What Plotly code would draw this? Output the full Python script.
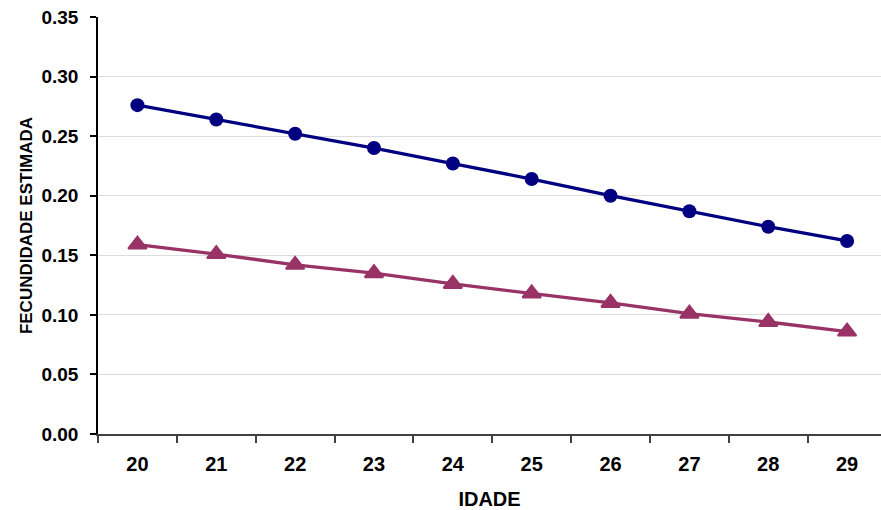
import plotly.graph_objects as go

idade = ["20", "21", "22", "23", "24", "25", "26", "27", "28", "29"]
serie_circulos = [0.276, 0.264, 0.252, 0.240, 0.227, 0.214, 0.200, 0.187, 0.174, 0.162]
serie_triangulos = [0.159, 0.151, 0.142, 0.135, 0.126, 0.118, 0.110, 0.101, 0.094, 0.086]
y_ticks = [0.00, 0.05, 0.10, 0.15, 0.20, 0.25, 0.30, 0.35]

FONT = "Liberation Sans, Arial, sans-serif"

fig = go.Figure()
fig.add_trace(go.Scatter(
    x=idade, y=serie_circulos, mode="lines+markers",
    line=dict(color="#000080", width=3.3),
    marker=dict(symbol="circle", size=14, color="#000080"),
    showlegend=False,
))
fig.add_trace(go.Scatter(
    x=idade, y=serie_triangulos, mode="lines+markers",
    line=dict(color="#993366", width=3.3),
    marker=dict(symbol="triangle-up", size=16, color="#993366",
                line=dict(color="#993366", width=2)),
    showlegend=False,
))

fig.update_layout(
    width=881, height=510,
    margin=dict(l=98, r=0, t=17, b=76),
    plot_bgcolor="white", paper_bgcolor="white",
    font=dict(family=FONT, color="black"),
)
fig.update_xaxes(
    type="category", range=[-0.5, 9.43],
    tickson="boundaries", ticks="outside", ticklen=7, tickwidth=1.5, tickcolor="#404040",
    showline=True, linecolor="#404040", linewidth=2,
    showgrid=False, zeroline=False,
    tickfont=dict(family=FONT, size=20, weight="bold", color="black"),
    ticklabelstandoff=11,
    title=dict(text="IDADE", font=dict(family=FONT, size=20, weight="bold", color="black"), standoff=20),
)
fig.update_yaxes(
    range=[0, 0.35], tickvals=y_ticks, tickformat=".2f",
    ticks="outside", ticklen=6, tickwidth=1.5, tickcolor="black",
    showline=True, linecolor="black", linewidth=1.5,
    showgrid=True, gridcolor="#dcdcdc", gridwidth=1, zeroline=False,
    tickfont=dict(family=FONT, size=19, weight="bold", color="black"),
    ticklabelstandoff=8,
    title=dict(text="FECUNDIDADE ESTIMADA", font=dict(family=FONT, size=17, weight="bold", color="black"), standoff=5),
)

fig.write_html("out.html")
